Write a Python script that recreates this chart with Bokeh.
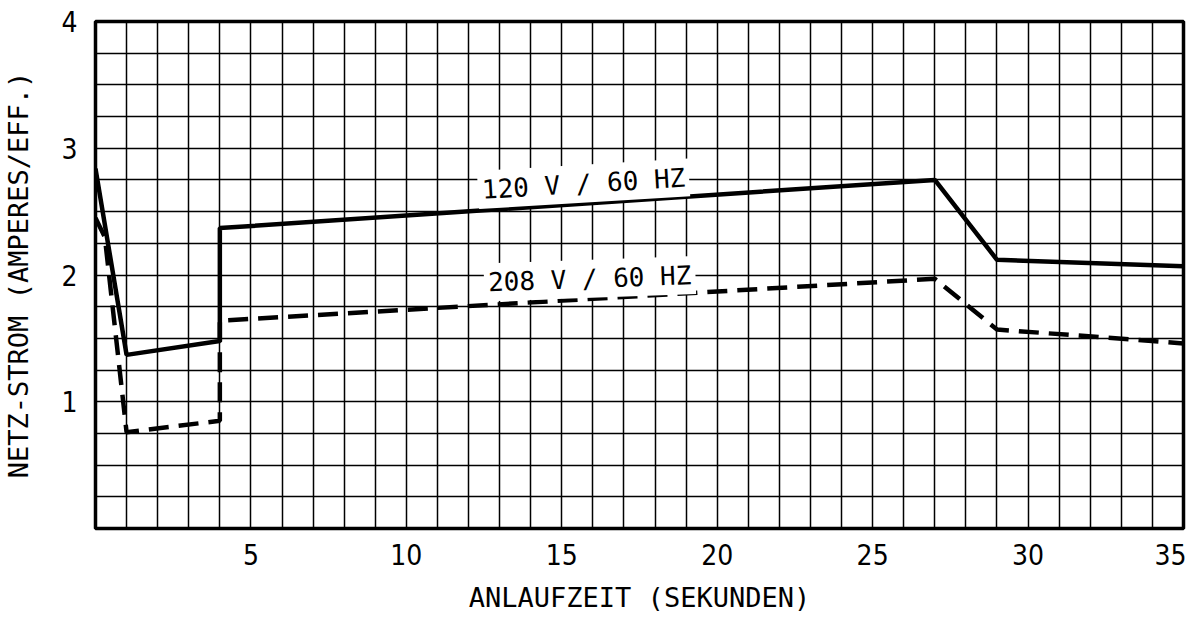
from bokeh.plotting import figure
from bokeh.models import FixedTicker, Label, Range1d
from bokeh.embed import file_html
from bokeh.resources import INLINE
import numpy as np

# Data
t_120 = [0, 1, 4, 4, 27, 29, 35]
i_120 = [2.84, 1.37, 1.48, 2.37, 2.75, 2.12, 2.07]

t_208 = [0, 0.3, 1, 4, 4, 27, 29, 35]
i_208 = [2.45, 2.3, 0.76, 0.85, 1.64, 1.97, 1.57, 1.46]

x_ticks = [5, 10, 15, 20, 25, 30, 35]
y_ticks = [1, 2, 3, 4]

x_title = "ANLAUFZEIT (SEKUNDEN)"
y_title = "NETZ-STROM (AMPERES/EFF.)"

MONO = "'DejaVu Sans Mono', monospace"
COND = "'DejaVu Sans Condensed', 'DejaVu Sans', sans-serif"

p = figure(width=1186, height=615, output_backend="svg", toolbar_location=None,
           x_range=Range1d(0, 35), y_range=Range1d(0, 4),
           min_border_left=95, min_border_right=3, min_border_top=21, min_border_bottom=87)

p.background_fill_color = "white"
p.border_fill_color = "white"
p.outline_line_color = "black"
p.outline_line_width = 3.5
p.outline_line_alpha = 1

# grid
p.xgrid.ticker = FixedTicker(ticks=list(np.arange(0, 35.01, 1)))
p.ygrid.ticker = FixedTicker(ticks=list(np.arange(0, 4.01, 0.25)))
for g in (p.xgrid[0], p.ygrid[0]):
    g.grid_line_color = "black"
    g.grid_line_width = 1.5
    g.grid_line_alpha = 1

# axes
p.xaxis.ticker = FixedTicker(ticks=x_ticks)
p.yaxis.ticker = FixedTicker(ticks=y_ticks)
for ax in (p.xaxis[0], p.yaxis[0]):
    ax.axis_line_color = None
    ax.major_tick_line_color = None
    ax.minor_tick_line_color = None
    ax.major_label_text_font = COND
    ax.major_label_text_font_size = "28px"
    ax.major_label_text_color = "black"
    ax.axis_label_text_font = MONO
    ax.axis_label_text_font_size = "27px"
    ax.axis_label_text_font_style = "normal"
    ax.axis_label_text_color = "black"

p.xaxis.axis_label = x_title
p.yaxis.axis_label = y_title
p.xaxis.major_label_standoff = 9
p.yaxis.major_label_standoff = 12
p.xaxis.axis_label_standoff = 14
p.yaxis.axis_label_standoff = 24

# curves
p.line(t_120, i_120, line_color="black", line_width=4.5)
p.line(t_208, i_208, line_color="black", line_width=4.5, line_dash="20 10")

# curve labels
p.add_layout(Label(x=15.7, y=2.72, text="120 V / 60 HZ", text_font=MONO,
                   text_font_size="26px", text_color="black",
                   text_align="center", text_baseline="middle", angle=0.06,
                   background_fill_color="white", background_fill_alpha=1,
                   padding=4))
p.add_layout(Label(x=15.9, y=1.97, text="208 V / 60 HZ", text_font=MONO,
                   text_font_size="26px", text_color="black",
                   text_align="center", text_baseline="middle", angle=0.035,
                   background_fill_color="white", background_fill_alpha=1,
                   padding=4))

open("out.html", "w").write(file_html(p, INLINE))
